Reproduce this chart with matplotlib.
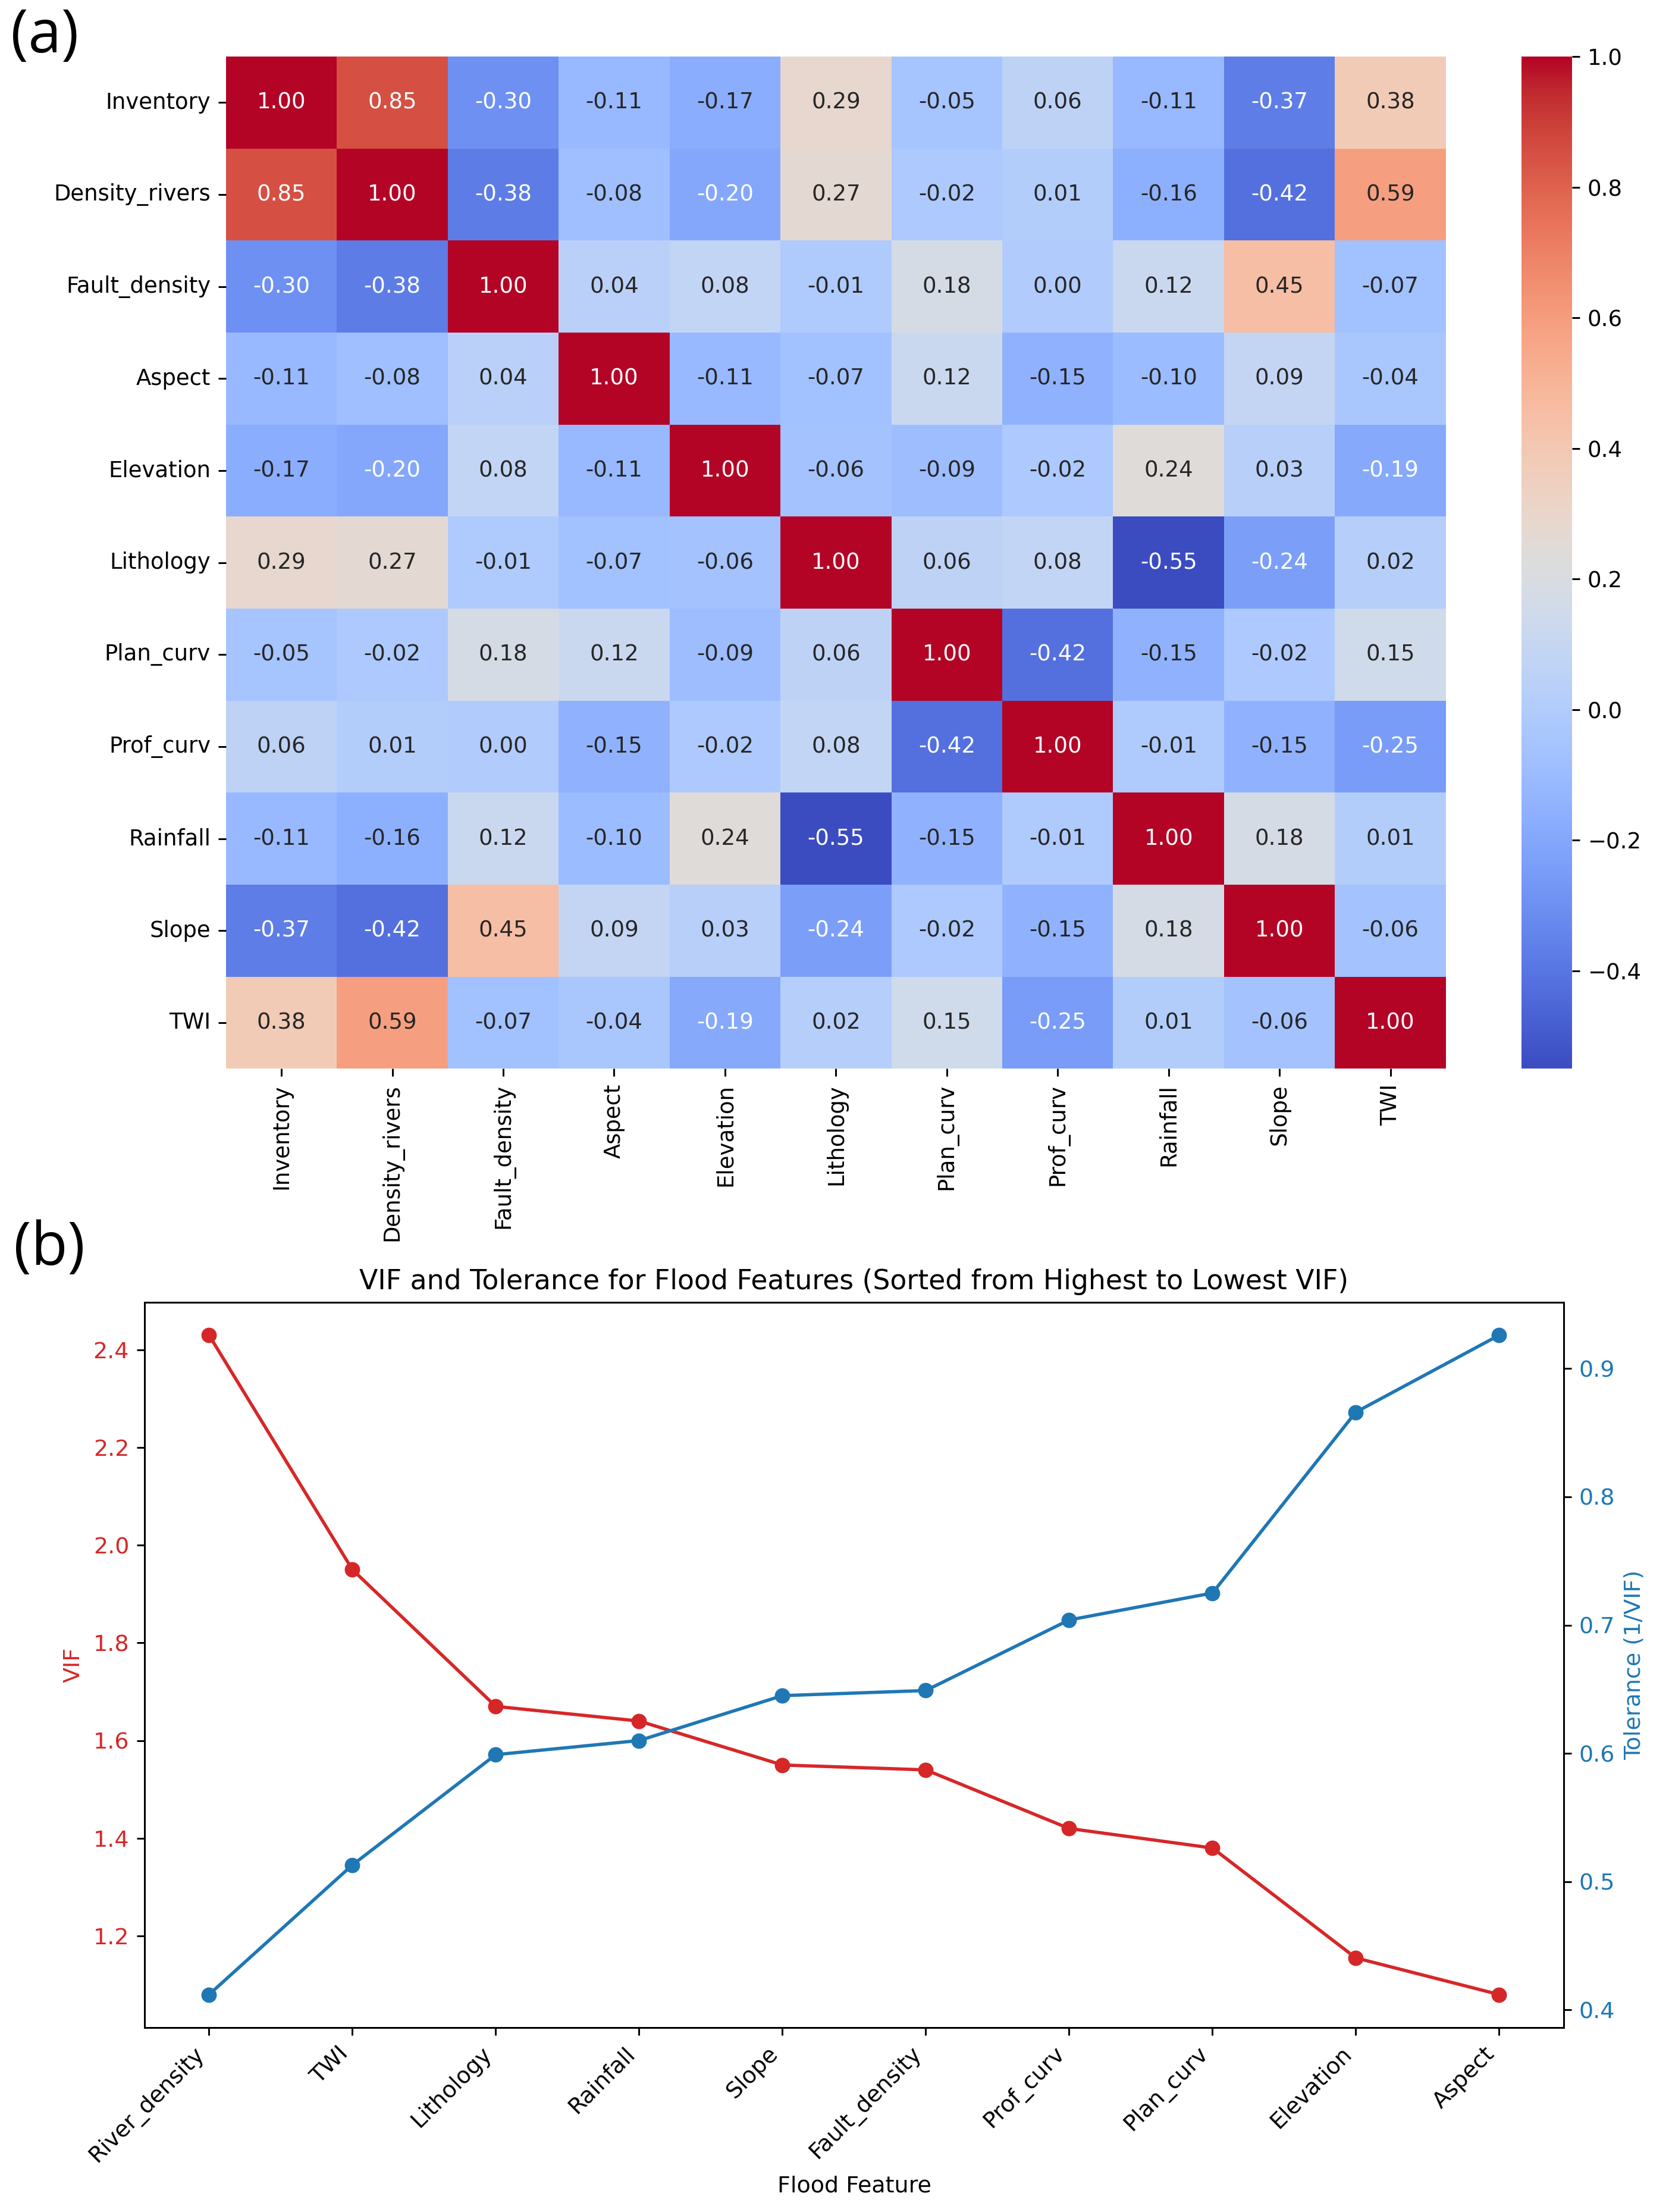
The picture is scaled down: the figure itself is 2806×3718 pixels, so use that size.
import numpy as np
import pandas as pd
import seaborn as sns
import matplotlib.pyplot as plt

# correlation matrix data
features = ['Inventory', 'Density_rivers', 'Fault_density', 'Aspect', 'Elevation',
            'Lithology', 'Plan_curv', 'Prof_curv', 'Rainfall', 'Slope', 'TWI']
corr_rows = [
    [1.00, 0.85, -0.30, -0.11, -0.17, 0.29, -0.05, 0.06, -0.11, -0.37, 0.38],
    [0.85, 1.00, -0.38, -0.08, -0.20, 0.27, -0.02, 0.01, -0.16, -0.42, 0.59],
    [-0.30, -0.38, 1.00, 0.04, 0.08, -0.01, 0.18, 0.00, 0.12, 0.45, -0.07],
    [-0.11, -0.08, 0.04, 1.00, -0.11, -0.07, 0.12, -0.15, -0.10, 0.09, -0.04],
    [-0.17, -0.20, 0.08, -0.11, 1.00, -0.06, -0.09, -0.02, 0.24, 0.03, -0.19],
    [0.29, 0.27, -0.01, -0.07, -0.06, 1.00, 0.06, 0.08, -0.55, -0.24, 0.02],
    [-0.05, -0.02, 0.18, 0.12, -0.09, 0.06, 1.00, -0.42, -0.15, -0.02, 0.15],
    [0.06, 0.01, 0.00, -0.15, -0.02, 0.08, -0.42, 1.00, -0.01, -0.15, -0.25],
    [-0.11, -0.16, 0.12, -0.10, 0.24, -0.55, -0.15, -0.01, 1.00, 0.18, 0.01],
    [-0.37, -0.42, 0.45, 0.09, 0.03, -0.24, -0.02, -0.15, 0.18, 1.00, -0.06],
    [0.38, 0.59, -0.07, -0.04, -0.19, 0.02, 0.15, -0.25, 0.01, -0.06, 1.00],
]

# VIF data (sorted from highest to lowest)
vif_features = ['River_density', 'TWI', 'Lithology', 'Rainfall', 'Slope',
                'Fault_density', 'Prof_curv', 'Plan_curv', 'Elevation', 'Aspect']
vif = [2.43, 1.95, 1.67, 1.64, 1.55, 1.54, 1.42, 1.38, 1.155, 1.08]
tolerance = [0.412, 0.513, 0.599, 0.610, 0.645, 0.649, 0.704, 0.725, 0.866, 0.926]

DPI = 266
W, H = 2806, 3718
fig = plt.figure(figsize=(W / DPI, H / DPI), dpi=DPI)

# (a) heatmap
ax_hm = fig.add_axes([0.1354, 0.5169, 0.7309, 0.4575])
ax_cb = fig.add_axes([0.9116, 0.5169, 0.0303, 0.4575])
df = pd.DataFrame(corr_rows, index=features, columns=features)
sns.heatmap(df, annot=True, fmt='.2f', cmap='coolwarm', ax=ax_hm, cbar_ax=ax_cb,
            annot_kws={'fontsize': 10})
ax_hm.set_xticklabels(features, rotation=90, fontsize=10)
ax_hm.set_yticklabels(features, rotation=0, fontsize=10)
ax_cb.tick_params(labelsize=10)

# (b) VIF and tolerance
fs = 10.3
ax1 = fig.add_axes([0.0866, 0.0834, 0.8503, 0.3279])
ax1.plot(vif_features, vif, marker='o', color='tab:red')
ax1.set_ylabel('VIF', color='tab:red', fontsize=fs)
ax1.tick_params(axis='y', labelcolor='tab:red', labelsize=fs)
ax1.tick_params(axis='x', labelsize=fs)
ax1.set_xlabel('Flood Feature', fontsize=fs)
ax1.set_title('VIF and Tolerance for Flood Features (Sorted from Highest to Lowest VIF)',
              fontsize=12.4)
plt.setp(ax1.get_xticklabels(), rotation=45, ha='right')

ax2 = ax1.twinx()
ax2.plot(vif_features, tolerance, marker='o', color='tab:blue')
ax2.set_ylabel('Tolerance (1/VIF)', color='tab:blue', fontsize=fs)
ax2.tick_params(axis='y', labelcolor='tab:blue', labelsize=fs)

# panel letters
fig.text(75 / W, 1 - 62 / H, '(a)', fontsize=27, family='Open Sans', ha='center', va='center')
fig.text(83 / W, 1 - 2100 / H, '(b)', fontsize=27, family='Open Sans', ha='center', va='center')

fig.savefig('out.png', dpi=DPI)
